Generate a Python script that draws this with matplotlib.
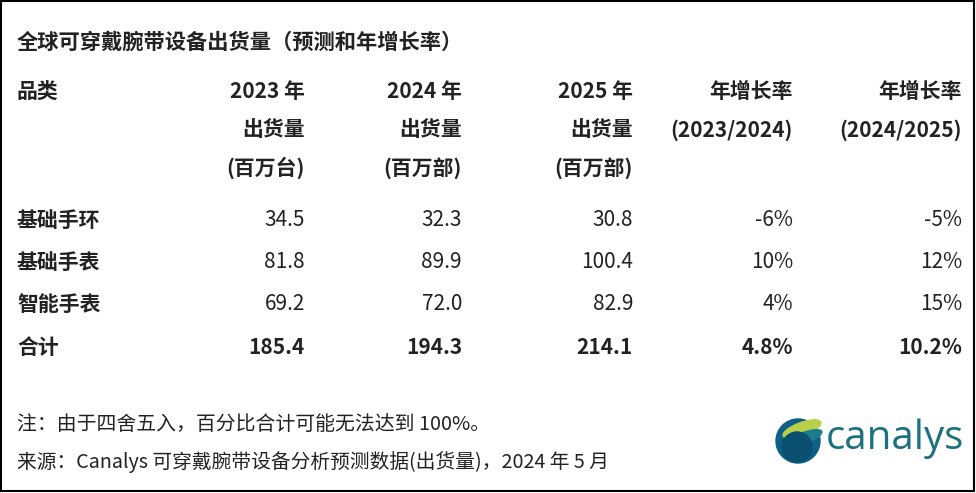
import matplotlib.pyplot as plt
from matplotlib.patches import Circle, Rectangle, Ellipse

plt.rcParams['font.family'] = ['Noto Sans CJK SC', 'DejaVu Sans']

title = "全球可穿戴腕带设备出货量（预测和年增长率）"
headers = [["品类", "", ""],
           ["2023 年", "出货量", "(百万台)"],
           ["2024 年", "出货量", "(百万部)"],
           ["2025 年", "出货量", "(百万部)"],
           ["年增长率", "(2023/2024)", ""],
           ["年增长率", "(2024/2025)", ""]]
categories = ["基础手环", "基础手表", "智能手表", "合计"]
ship_2023 = [34.5, 81.8, 69.2, 185.4]
ship_2024 = [32.3, 89.9, 72.0, 194.3]
ship_2025 = [30.8, 100.4, 82.9, 214.1]
growth_23_24 = ["-6%", "10%", "4%", "4.8%"]
growth_24_25 = ["-5%", "12%", "15%", "10.2%"]
note = "注：由于四舍五入，百分比合计可能无法达到 100%。"
source = "来源：Canalys 可穿戴腕带设备分析预测数据(出货量)，2024 年 5 月"

W, H = 976, 493
fig = plt.figure(figsize=(W / 100, H / 100), dpi=100)
ax = fig.add_axes([0, 0, 1, 1])
ax.set_xlim(0, W)
ax.set_ylim(H, 0)
ax.axis("off")
ax.add_patch(Rectangle((1, 1), W - 3, H - 3, fill=False, lw=1.5, ec="black"))

c = "#222222"
ax.text(17, 42, title, fontsize=15.3, weight="bold", va="center", color=c)

col_x = [17, 305, 462, 633, 793, 962]
head_y = [92, 130, 168]
row_y = [220, 262, 304, 348]
for i, col in enumerate(headers):
    for j, t in enumerate(col):
        ax.text(col_x[i], head_y[j], t, fontsize=15, weight="bold", color=c,
                va="center", ha="left" if i == 0 else "right")

cols = [categories,
        [f"{v:.1f}" for v in ship_2023],
        [f"{v:.1f}" for v in ship_2024],
        [f"{v:.1f}" for v in ship_2025],
        growth_23_24, growth_24_25]
for i, col in enumerate(cols):
    for r, t in enumerate(col):
        bold = i == 0 or r == 3
        ax.text(col_x[i], row_y[r], t, fontsize=15, color=c, va="center",
                weight="bold" if bold else "normal",
                ha="left" if i == 0 else "right")

ax.text(17, 424, note, fontsize=14.3, va="center", color=c)
ax.text(17, 462, source, fontsize=14.2, va="center", color=c)

# logo
ax.add_patch(Circle((798, 441), 22, color="#0d5f86"))
ax.add_patch(Ellipse((802, 429), 40, 13, angle=-20, color="#b8cf4a"))
ax.add_patch(Ellipse((804, 438), 38, 11, angle=-20, color="#1a7d8c"))
ax.add_patch(Circle((797, 447), 15, color="#0b4f70"))
ax.text(826, 439, "canalys", fontsize=29, color="#1d7080", va="center",
        family="Open Sans")

fig.savefig("out.png", dpi=100)
